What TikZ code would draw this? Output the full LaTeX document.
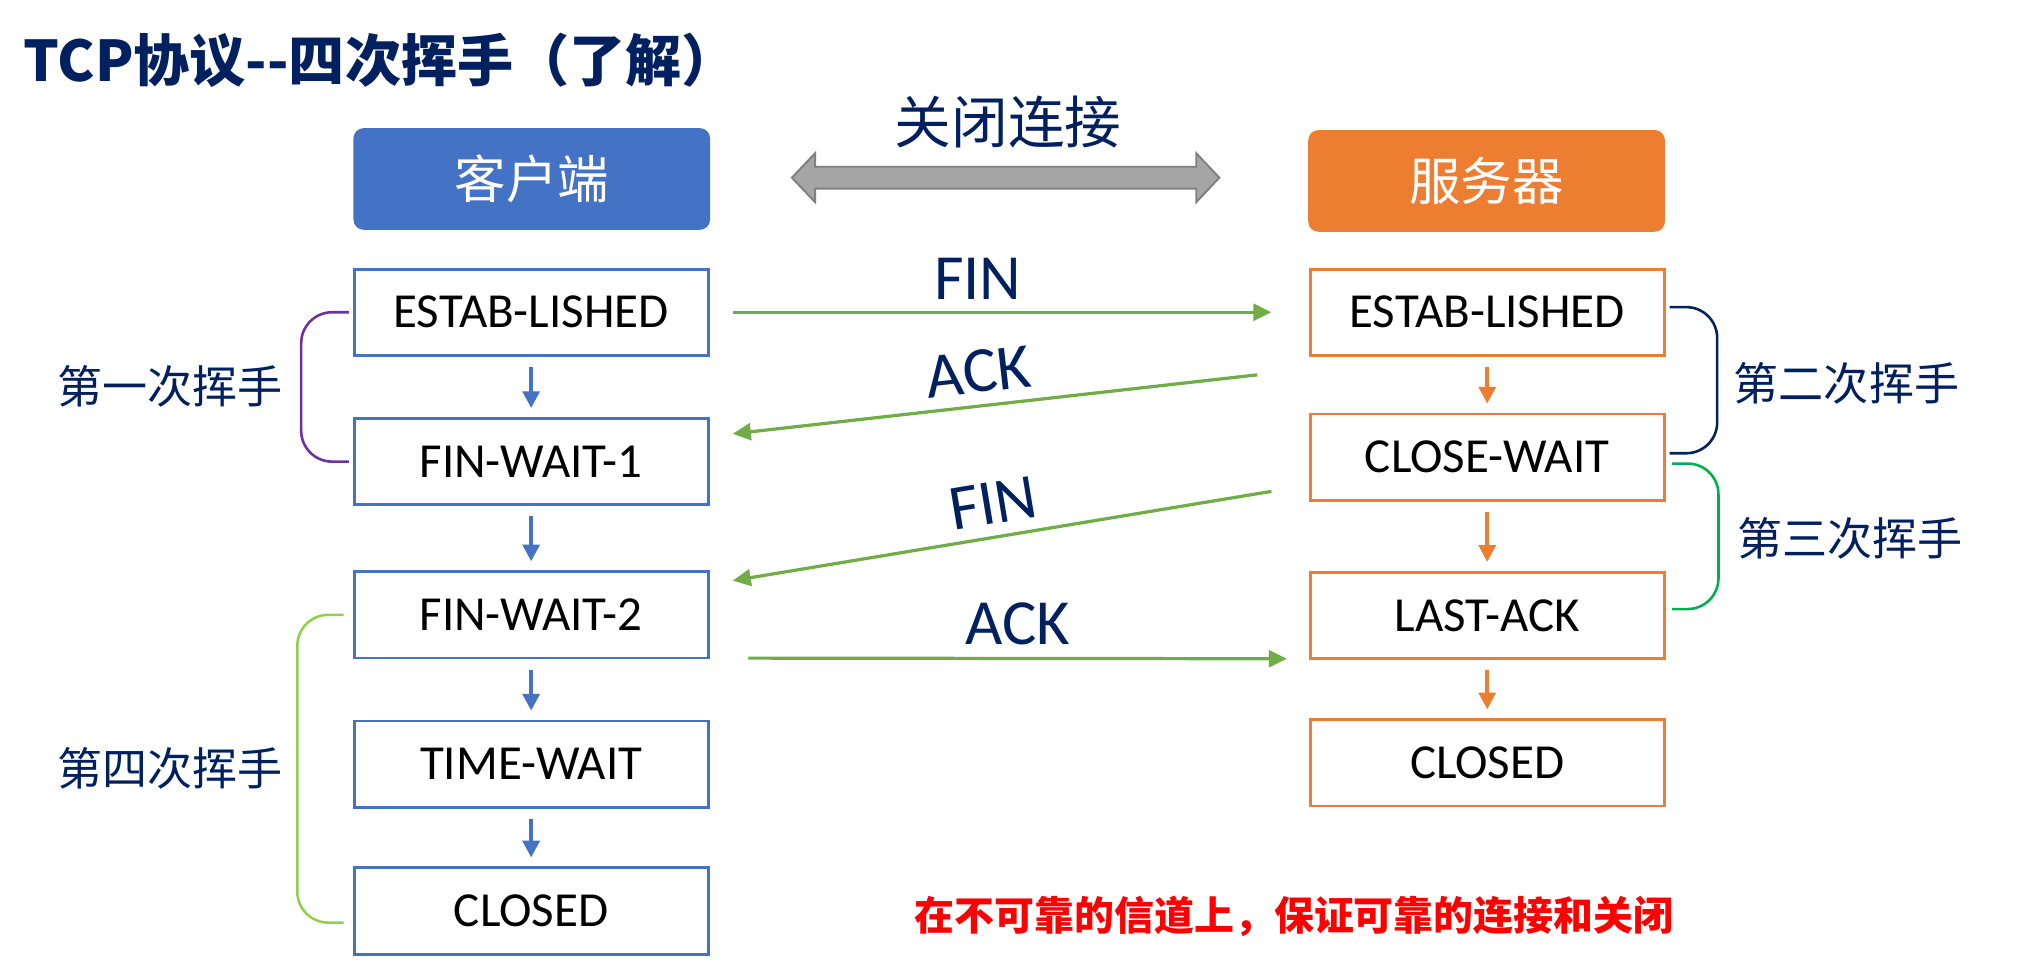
\documentclass[tikz,border=0pt]{standalone}
\usepackage{fontspec}
\setmainfont{Carlito}
\newfontfamily\cjk{Noto Sans CJK SC}
\usetikzlibrary{arrows.meta,calc}
\definecolor{cblue}{HTML}{4472C4}
\definecolor{corange}{HTML}{ED7D31}
\definecolor{cgreen}{HTML}{70AD47}
\definecolor{cnavy}{HTML}{002060}
\definecolor{cpurple}{HTML}{7030A0}
\definecolor{cgreenb}{HTML}{00B050}
\definecolor{clgreen}{HTML}{92D050}
\definecolor{cred}{HTML}{FF0000}
\definecolor{cgrayf}{HTML}{A5A5A5}
\definecolor{cgrayd}{HTML}{7F7F7F}
\tikzset{
 lbox/.style={draw=cblue, line width=2.2pt, fill=white, minimum width=275pt, minimum height=67pt, inner sep=0pt, font=\fontsize{38}{40}\selectfont},
 rbox/.style={lbox, draw=corange},
 hdr/.style={rounded corners=8pt, minimum width=277pt, minimum height=79pt, text=white, font=\cjk\fontsize{40}{44}\selectfont, inner sep=0pt},
 varrowl/.style={draw=cblue, line width=3pt, -{Triangle[length=13pt,width=13pt]}, shorten <=8pt, shorten >=7pt},
 varrowr/.style={varrowl, draw=corange, fill=corange},
 garrow/.style={draw=cgreen, line width=2.5pt, -{Triangle[length=14pt,width=13pt]}},
 msg/.style={text=cnavy, font=\fontsize{50}{54}\selectfont, above=9pt, sloped, inner sep=0pt},
 brace/.style={line width=2pt, rounded corners=24pt},
 side/.style={text=cnavy, font=\cjk\fontsize{35}{40}\selectfont, inner sep=0pt},
}
\begin{document}
\begin{tikzpicture}[x=1pt,y=-1pt]
\useasboundingbox (0,0) rectangle (1568,749);
% title
\node[anchor=west, text=cnavy, font=\cjk\bfseries\fontsize{43.6}{48}\selectfont, inner sep=0pt] (title) at (18,47) {TCP协议--四次挥手（了解）};
\node[text=cnavy, font=\cjk\fontsize{44}{48}\selectfont, inner sep=0pt] (closeconn) at (783,95) {关闭连接};
% gray double arrow
\draw[fill=cgrayf, draw=cgrayd, line width=1.5pt] (615,138) -- (633,119) -- (633,129.5) -- (929,129.5) -- (929,119) -- (947,138) -- (929,157) -- (929,146.5) -- (633,146.5) -- (633,157) -- cycle;
% headers
\node[hdr, fill=cblue] (cli) at (413,139) {客户端};
\node[hdr, fill=corange] (srv) at (1154.5,140.5) {服务器};
% left states
\node[lbox] (l1) at (412.5,242.5) {ESTAB-LISHED};
\node[lbox] (l2) at (412.5,358.5) {FIN-WAIT-1};
\node[lbox] (l3) at (412.5,477.5) {FIN-WAIT-2};
\node[lbox] (l4) at (412.5,593.5) {TIME-WAIT};
\node[lbox] (l5) at (412.5,707.5) {CLOSED};
% right states
\node[rbox] (r1) at (1155,242.5) {ESTAB-LISHED};
\node[rbox] (r2) at (1155,355) {CLOSE-WAIT};
\node[rbox] (r3) at (1155,478) {LAST-ACK};
\node[rbox] (r4) at (1155,592.5) {CLOSED};
% vertical arrows
\draw[varrowl] (l1.south) -- (l2.north);
\draw[varrowl] (l2.south) -- (l3.north);
\draw[varrowl] (l3.south) -- (l4.north);
\draw[varrowl] (l4.south) -- (l5.north);
\draw[varrowr] (r1.south) -- (r2.north);
\draw[varrowr] (r2.south) -- (r3.north);
\draw[varrowr] (r3.south) -- (r4.north);
% messages
\draw[garrow] ([xshift=18pt]l1.east) -- node[msg, pos=0.455]{FIN} ([xshift=-29pt]r1.west);
\draw[garrow] ([xshift=-40pt,yshift=-14pt]r1.south west) -- node[msg,pos=0.525]{ACK} ([xshift=18pt,yshift=-13pt]l2.north east);
\draw[garrow] ([xshift=-29pt,yshift=8pt]r2.south west) -- node[msg,pos=0.507]{FIN} ([xshift=18pt,yshift=-8pt]l3.north east);
\draw[garrow] ([xshift=30pt,yshift=1pt]l3.south east) -- node[msg,pos=0.5]{ACK} ([xshift=-17pt,yshift=1pt]r3.south west);
% brackets
\draw[brace, draw=cpurple] ([xshift=-3pt]l1.west) -| ($(l1.west)!0.5!(l2.west)+(-40,0)$) |- ([xshift=-3pt]l2.west);
\draw[brace, draw=cnavy] ([xshift=3pt,yshift=4pt]r1.east) -| ($(r1.east)!0.5!(r2.east)+(40,0)$) |- ([xshift=3pt,yshift=3pt]r2.east);
\draw[brace, draw=cgreenb] ([xshift=5pt,yshift=-5pt]r2.east) -| ($(r2.east)!0.5!(r3.east)+(41,0)$) |- ([xshift=5pt,yshift=5pt]r3.east);
\draw[brace, draw=clgreen] ([xshift=-7pt]l3.west) -| ($(l3.west)!0.5!(l5.west)+(-43,0)$) |- ([xshift=-7pt,yshift=-9pt]l5.west);
% side labels
\node[side] (h1) at (132,300) {第一次挥手};
\node[side] (h2) at (1434,298) {第二次挥手};
\node[side] (h3) at (1437,418) {第三次挥手};
\node[side] (h4) at (132,597) {第四次挥手};
% note
\node[text=cred, font=\cjk\bfseries\fontsize{31}{34}\selectfont, inner sep=0pt] (note) at (1005,712) {在不可靠的信道上，保证可靠的连接和关闭};
\end{tikzpicture}
\end{document}
